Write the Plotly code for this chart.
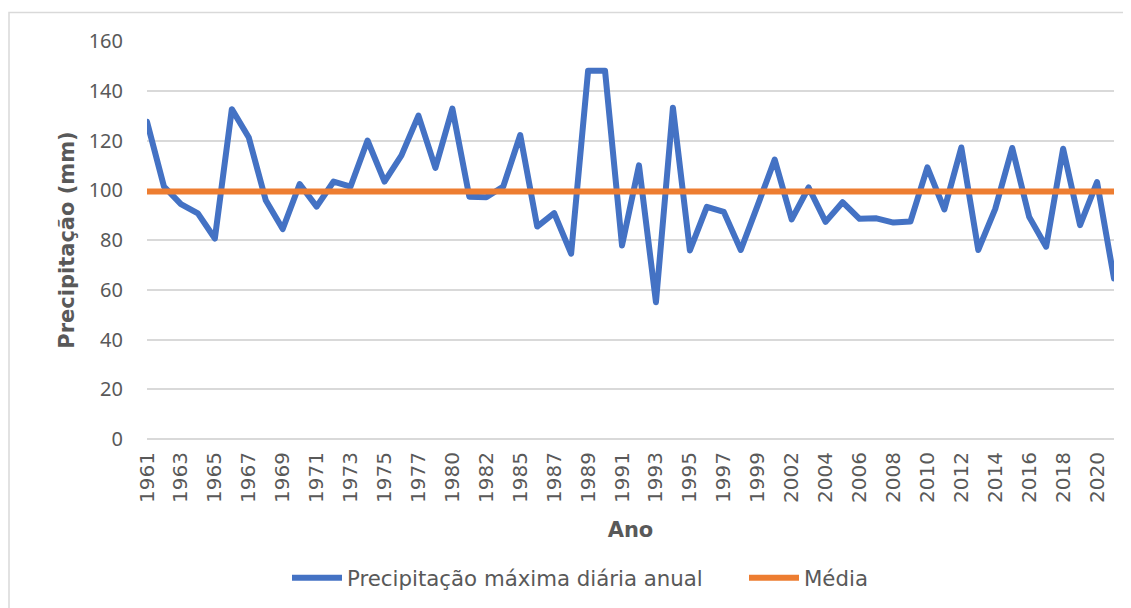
import plotly.graph_objects as go

# Categories (years present in the series)
anos = (
    [str(y) for y in range(1961, 1979)]
    + ["1980", "1981", "1982", "1984"]
    + [str(y) for y in range(1985, 2001)]
    + [str(y) for y in range(2002, 2022)]
)

precipitacao = [
    127.5, 101.5, 94.4, 90.7, 80.6, 132.6, 121.2, 96.0, 84.4, 102.5,
    93.4, 103.5, 101.5, 120.0, 103.5, 114.0, 130.0, 109.0, 132.8, 97.4,
    97.2, 101.5, 122.2, 85.4, 90.8, 74.5, 148.0, 148.0, 77.8, 110.0,
    55.0, 133.2, 75.8, 93.3, 91.3, 76.0, 94.0, 112.3, 88.3, 101.1,
    87.3, 95.2, 88.5, 88.7, 87.0, 87.4, 109.2, 92.3, 117.2, 76.0,
    92.5, 117.0, 89.3, 77.3, 116.7, 86.0, 103.3, 64.5,
]

media_valor = 99.5
media = [media_valor] * len(anos)

tick_labels = anos[::2]

BLUE = "#4472C4"
ORANGE = "#ED7D31"
GRID = "#D9D9D9"
TXT = "#595959"

fig = go.Figure()
fig.add_trace(go.Scatter(
    x=anos, y=precipitacao, mode="lines",
    name="Precipitação máxima diária anual",
    line=dict(color=BLUE, width=6),
))
fig.add_trace(go.Scatter(
    x=anos, y=media, mode="lines",
    name="Média",
    line=dict(color=ORANGE, width=6),
))

# Page offset of the figure div (browser body margin)
OFF = 8
W, H = 1131, 608
# Plot area in page pixels: x 147..1114, y 41..439
L = 147 - OFF
T = 41 - OFF
R = W - (1114 - OFF)
B = H - (439 - OFF)
pw = W - L - R
ph = H - T - B

def px2x(px):
    return (px - OFF - L) / pw

def py2y(py):
    return (H - B - (py - OFF)) / ph

FONT = "DejaVu Sans, Verdana"

fig.update_layout(
    width=W, height=H,
    margin=dict(l=L, r=R, t=T, b=B, autoexpand=False),
    paper_bgcolor="white",
    plot_bgcolor="white",
    font=dict(family=FONT, color=TXT, size=20),
    showlegend=True,
    legend=dict(
        orientation="h",
        x=px2x(287), xanchor="left",
        y=py2y(578), yanchor="middle",
        font=dict(size=21.3, color=TXT, family=FONT),
        itemwidth=50,
        entrywidth=392,
        traceorder="normal",
    ),
    xaxis=dict(
        type="category",
        range=[0, len(anos) - 1],
        tickmode="array",
        tickvals=tick_labels,
        ticktext=tick_labels,
        tickangle=-90,
        tickfont=dict(size=20, color=TXT, family=FONT),
        showgrid=False,
        showline=False,
        ticks="",
        ticklabelstandoff=8,
        automargin=False,
        title=dict(text="<b>Ano</b>", font=dict(size=21, color=TXT, family=FONT), standoff=20),
    ),
    yaxis=dict(
        range=[0, 160],
        dtick=20,
        tick0=0,
        showgrid=True,
        gridcolor=GRID,
        gridwidth=1.5,
        zeroline=True,
        zerolinecolor=GRID,
        zerolinewidth=1.5,
        showline=False,
        ticks="",
        ticklabelstandoff=23,
        tickfont=dict(size=20, color=TXT, family="Noto Sans, Open Sans"),
        automargin=False,
        title=dict(text="<b>Precipitação (mm)</b>", font=dict(size=21, color=TXT, family=FONT), standoff=8),
    ),
    shapes=[dict(
        type="rect", xref="paper", yref="paper",
        x0=px2x(9), x1=px2x(1150), y0=py2y(630), y1=py2y(12.5),
        line=dict(color=GRID, width=1.5), fillcolor="rgba(0,0,0,0)",
        layer="below",
    )],
)

post = """
document.querySelectorAll('.scatterlayer path.js-line').forEach(function(p){
  p.style.strokeLinejoin = 'round';
  p.style.strokeLinecap = 'round';
});
"""

fig.write_html("out.html", post_script=post)
